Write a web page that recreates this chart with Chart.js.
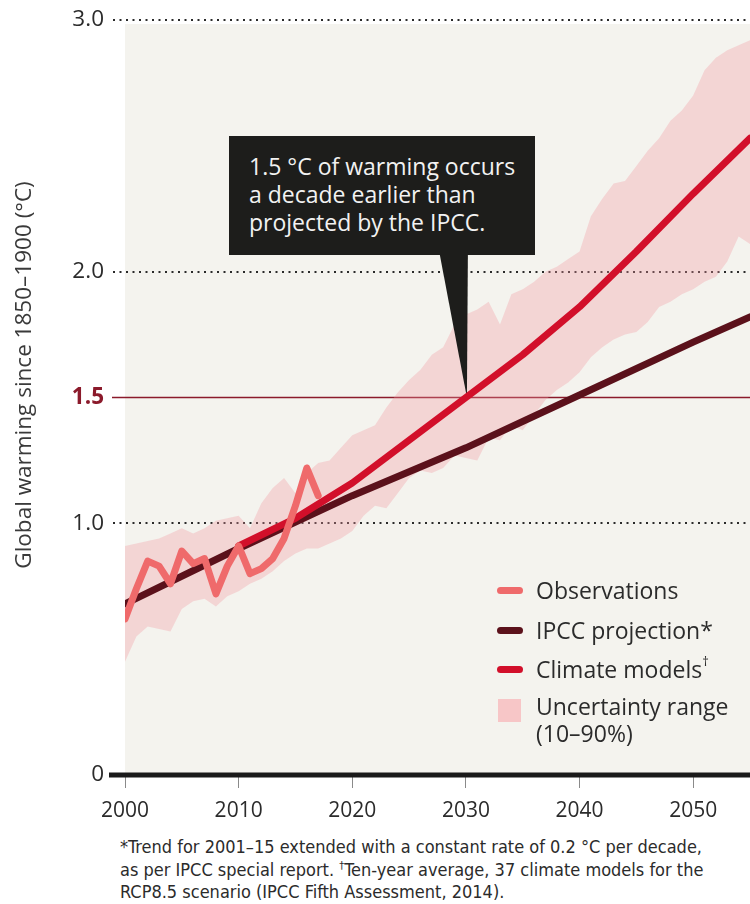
<!DOCTYPE html>
<html>
<head>
<meta charset="utf-8">
<script src="https://cdn.jsdelivr.net/npm/chart.js@4/dist/chart.umd.min.js"></script>
<style>
  body { margin: 0; background: #fff; font-family: "Open Sans", "DejaVu Sans", sans-serif; color: #2b2b2b; }
  #wrap { position: relative; width: 750px; height: 904px; overflow: hidden; }
  #chartBox { position: absolute; left: 0; top: 0; width: 750px; height: 832px; }
  .callout { position: absolute; left: 229px; top: 136px; width: 306px; height: 119px; background: #1d1d1b;
    color: #f2f2f2; font-size: 23px; line-height: 28px; box-sizing: border-box; padding: 16px 0 0 20px; white-space: nowrap; }
  .legend { position: absolute; left: 497px; top: 574px; font-size: 23px; color: #2b2b2b; }
  .legend .row { position: relative; height: 39.5px; padding-left: 39px; line-height: 32px; white-space: nowrap; }
  .legend .sw { position: absolute; left: 0; top: 13px; width: 26px; height: 7px; border-radius: 4px; }
  .legend .sq { position: absolute; left: 1px; top: 6px; width: 23px; height: 23px; }
  .legend sup { font-size: 13px; line-height: 0; position: relative; top: -3px; vertical-align: super; }
  .foot { position: absolute; left: 120px; top: 836px; font-family: "Liberation Sans Narrow", "DejaVu Sans Condensed", sans-serif;
    font-size: 18px; line-height: 22.5px; color: #2b2b2b; white-space: nowrap; }
  .foot sup { font-size: 11px; line-height: 0; vertical-align: super; }
</style>
</head>
<body>
<div id="wrap">
  <div id="chartBox"><canvas id="warmingChart"></canvas></div>
  <div class="callout">1.5 °C of warming occurs<br>a decade earlier than<br>projected by the IPCC.</div>
  <div class="legend">
    <div class="row"><span class="sw" style="background:#ef6a6b"></span>Observations</div>
    <div class="row"><span class="sw" style="background:#5b111b"></span>IPCC projection*</div>
    <div class="row"><span class="sw" style="background:#d20f2a"></span>Climate models<sup>†</sup></div>
    <div class="row" style="line-height:27px"><span class="sq" style="background:#f7c6c7"></span>Uncertainty range<br>(10–90%)</div>
  </div>
  <div class="foot">*Trend for 2001–15 extended with a constant rate of 0.2 °C per decade,<br>as per IPCC special report. <sup>†</sup>Ten-year average, 37 climate models for the<br>RCP8.5 scenario (IPCC Fifth Assessment, 2014).</div>
</div>
<script>
const xTicks = [2000, 2010, 2020, 2030, 2040, 2050];
const yTicks = [0, 1.0, 1.5, 2.0, 3.0];
const yTitle = 'Global warming since 1850–1900 (°C)';

const obsYears = [2000, 2001, 2002, 2003, 2004, 2005, 2006, 2007, 2008, 2009, 2010, 2011, 2012, 2013, 2014, 2015, 2016, 2017];
const observations = [0.62, 0.74, 0.85, 0.83, 0.76, 0.89, 0.84, 0.86, 0.72, 0.83, 0.91, 0.80, 0.82, 0.86, 0.94, 1.07, 1.22, 1.11];

const ipccYears = [2000, 2010, 2020, 2030, 2040, 2050, 2055];
const ipccProjection = [0.68, 0.90, 1.11, 1.30, 1.51, 1.72, 1.82];

const modelYears = [2010, 2015, 2020, 2025, 2030, 2035, 2040, 2045, 2050, 2055];
const climateModels = [0.91, 1.02, 1.16, 1.33, 1.50, 1.67, 1.86, 2.08, 2.31, 2.53];

const bandYears = [2000, 2001, 2002, 2003, 2004, 2005, 2006, 2007, 2008, 2009,
  2010, 2011, 2012, 2013, 2014, 2015, 2016, 2017, 2018, 2019,
  2020, 2021, 2022, 2023, 2024, 2025, 2026, 2027, 2028, 2029,
  2030, 2031, 2032, 2033, 2034, 2035, 2036, 2037, 2038, 2039,
  2040, 2041, 2042, 2043, 2044, 2045, 2046, 2047, 2048, 2049,
  2050, 2051, 2052, 2053, 2054, 2055];
const bandUpper = [0.91, 0.92, 0.93, 0.94, 0.96, 0.98, 0.96, 0.98, 1.01, 1.02,
  1.03, 0.98, 1.08, 1.14, 1.18, 1.12, 1.20, 1.24, 1.25, 1.30,
  1.35, 1.37, 1.39, 1.46, 1.52, 1.57, 1.61, 1.67, 1.70, 1.79,
  1.83, 1.85, 1.88, 1.79, 1.91, 1.93, 1.96, 2.00, 2.02, 2.05,
  2.08, 2.22, 2.29, 2.35, 2.36, 2.42, 2.48, 2.53, 2.60, 2.64,
  2.70, 2.80, 2.85, 2.88, 2.90, 2.92];
const bandLower = [0.45, 0.55, 0.59, 0.58, 0.57, 0.66, 0.69, 0.70, 0.67, 0.71,
  0.73, 0.76, 0.78, 0.81, 0.85, 0.88, 0.90, 0.90, 0.92, 0.94,
  0.97, 1.03, 1.07, 1.06, 1.12, 1.18, 1.21, 1.20, 1.22, 1.27,
  1.26, 1.25, 1.34, 1.33, 1.39, 1.37, 1.43, 1.49, 1.53, 1.56,
  1.60, 1.66, 1.70, 1.73, 1.75, 1.76, 1.80, 1.86, 1.88, 1.91,
  1.93, 1.96, 1.98, 2.04, 2.14, 2.11];

const calloutYear = 2030;
const calloutValue = 1.5;

function zip(xs, ys) {
  return xs.map((x, i) => ({ x, y: ys[i] }));
}

// beige plot area, dotted grid lines and the 1.5 line (under the band)
const backdrop = {
  id: 'backdrop',
  beforeDatasetsDraw(chart) {
    const { ctx, chartArea: a, scales: { y } } = chart;
    ctx.save();
    ctx.fillStyle = '#f4f3ee';
    ctx.fillRect(a.left, a.top + 4, a.right - a.left, a.bottom - a.top - 4);
    ctx.strokeStyle = '#2a2a2a';
    ctx.lineWidth = 2;
    ctx.setLineDash([2, 4.5]);
    [1, 2, 3].forEach(v => {
      const py = Math.round(y.getPixelForValue(v));
      ctx.beginPath();
      ctx.moveTo(a.left - 12, py);
      ctx.lineTo(chart.width, py);
      ctx.stroke();
    });
    ctx.setLineDash([]);
    ctx.strokeStyle = '#8b1a2b';
    ctx.lineWidth = 1.5;
    const p15 = y.getPixelForValue(1.5);
    ctx.beginPath();
    ctx.moveTo(a.left - 13, p15);
    ctx.lineTo(chart.width, p15);
    ctx.stroke();
    ctx.restore();
  },
  // callout pointer goes above the band but under the lines
  beforeDatasetDraw(chart, args) {
    if (args.index !== 2) return;
    const { ctx, scales: { x, y } } = chart;
    const tx = x.getPixelForValue(calloutYear);
    const ty = y.getPixelForValue(calloutValue);
    ctx.save();
    ctx.fillStyle = '#1d1d1b';
    ctx.beginPath();
    ctx.moveTo(tx - 27, 250);
    ctx.lineTo(tx + 2, 250);
    ctx.lineTo(tx + 1, ty);
    ctx.closePath();
    ctx.fill();
    ctx.restore();
  },
  afterDraw(chart) {
    const { ctx, chartArea: a } = chart;
    ctx.save();
    ctx.strokeStyle = '#1a1a1a';
    ctx.lineWidth = 5;
    ctx.beginPath();
    ctx.moveTo(a.left - 16, a.bottom);
    ctx.lineTo(chart.width, a.bottom);
    ctx.stroke();
    // axis title, placed a little above the middle as in the print
    ctx.translate(25, 375);
    ctx.rotate(-Math.PI / 2);
    ctx.fillStyle = '#3a3a3a';
    ctx.font = '22.5px "Open Sans"';
    ctx.textAlign = 'center';
    ctx.textBaseline = 'middle';
    ctx.fillText(yTitle, 0, 0);
    ctx.restore();
  }
};

const lineStyle = { pointRadius: 0, tension: 0, borderWidth: 7, borderCapStyle: 'round', borderJoinStyle: 'round', fill: false };

new Chart(document.getElementById('warmingChart'), {
  type: 'line',
  data: {
    datasets: [
      { label: 'lower', data: zip(bandYears, bandLower), pointRadius: 0, borderWidth: 0, fill: false, order: 4 },
      { label: 'Uncertainty range (10–90%)', data: zip(bandYears, bandUpper), pointRadius: 0, borderWidth: 0,
        backgroundColor: 'rgba(244,150,158,0.32)', fill: '-1', order: 3 },
      { label: 'IPCC projection*', data: zip(ipccYears, ipccProjection), borderColor: '#5b111b', order: 2, ...lineStyle },
      { label: 'Climate models†', data: zip(modelYears, climateModels), borderColor: '#d20f2a', order: 1, ...lineStyle },
      { label: 'Observations', data: zip(obsYears, observations), borderColor: '#ef6a6b', order: 0, ...lineStyle }
    ]
  },
  options: {
    responsive: true,
    maintainAspectRatio: false,
    animation: false,
    layout: { padding: { top: 20, right: 0, bottom: 0, left: 0 } },
    plugins: { legend: { display: false }, tooltip: { enabled: false } },
    scales: {
      x: {
        type: 'linear',
        min: 2000,
        max: 2055,
        afterBuildTicks: s => { s.ticks = xTicks.map(v => ({ value: v })); },
        afterFit: s => { s.height = 57; s.paddingLeft = 0; s.paddingRight = 0; },
        grid: { drawOnChartArea: false, drawTicks: true, tickLength: 13, color: '#8a8a8a', lineWidth: 1 },
        border: { display: false },
        ticks: { callback: v => String(v), color: '#2b2b2b', padding: 10, maxRotation: 0,
          font: { family: 'Open Sans', size: 21 } }
      },
      y: {
        min: 0,
        max: 3,
        afterBuildTicks: s => { s.ticks = yTicks.map(v => ({ value: v })); },
        afterFit: s => { s.width = 125; s.paddingTop = 0; s.paddingBottom = 0; },
        grid: { display: false, drawTicks: false },
        border: { display: false },
        ticks: {
          padding: 21,
          callback: v => v === 0 ? '0' : v.toFixed(1),
          color: c => c.tick && c.tick.value === 1.5 ? '#8b1a2b' : '#2b2b2b',
          font: c => ({ family: 'Open Sans', size: 22.5, weight: c.tick && c.tick.value === 1.5 ? 'bold' : 'normal' })
        },
        title: { display: false }
      }
    }
  },
  plugins: [backdrop]
});
</script>
</body>
</html>
